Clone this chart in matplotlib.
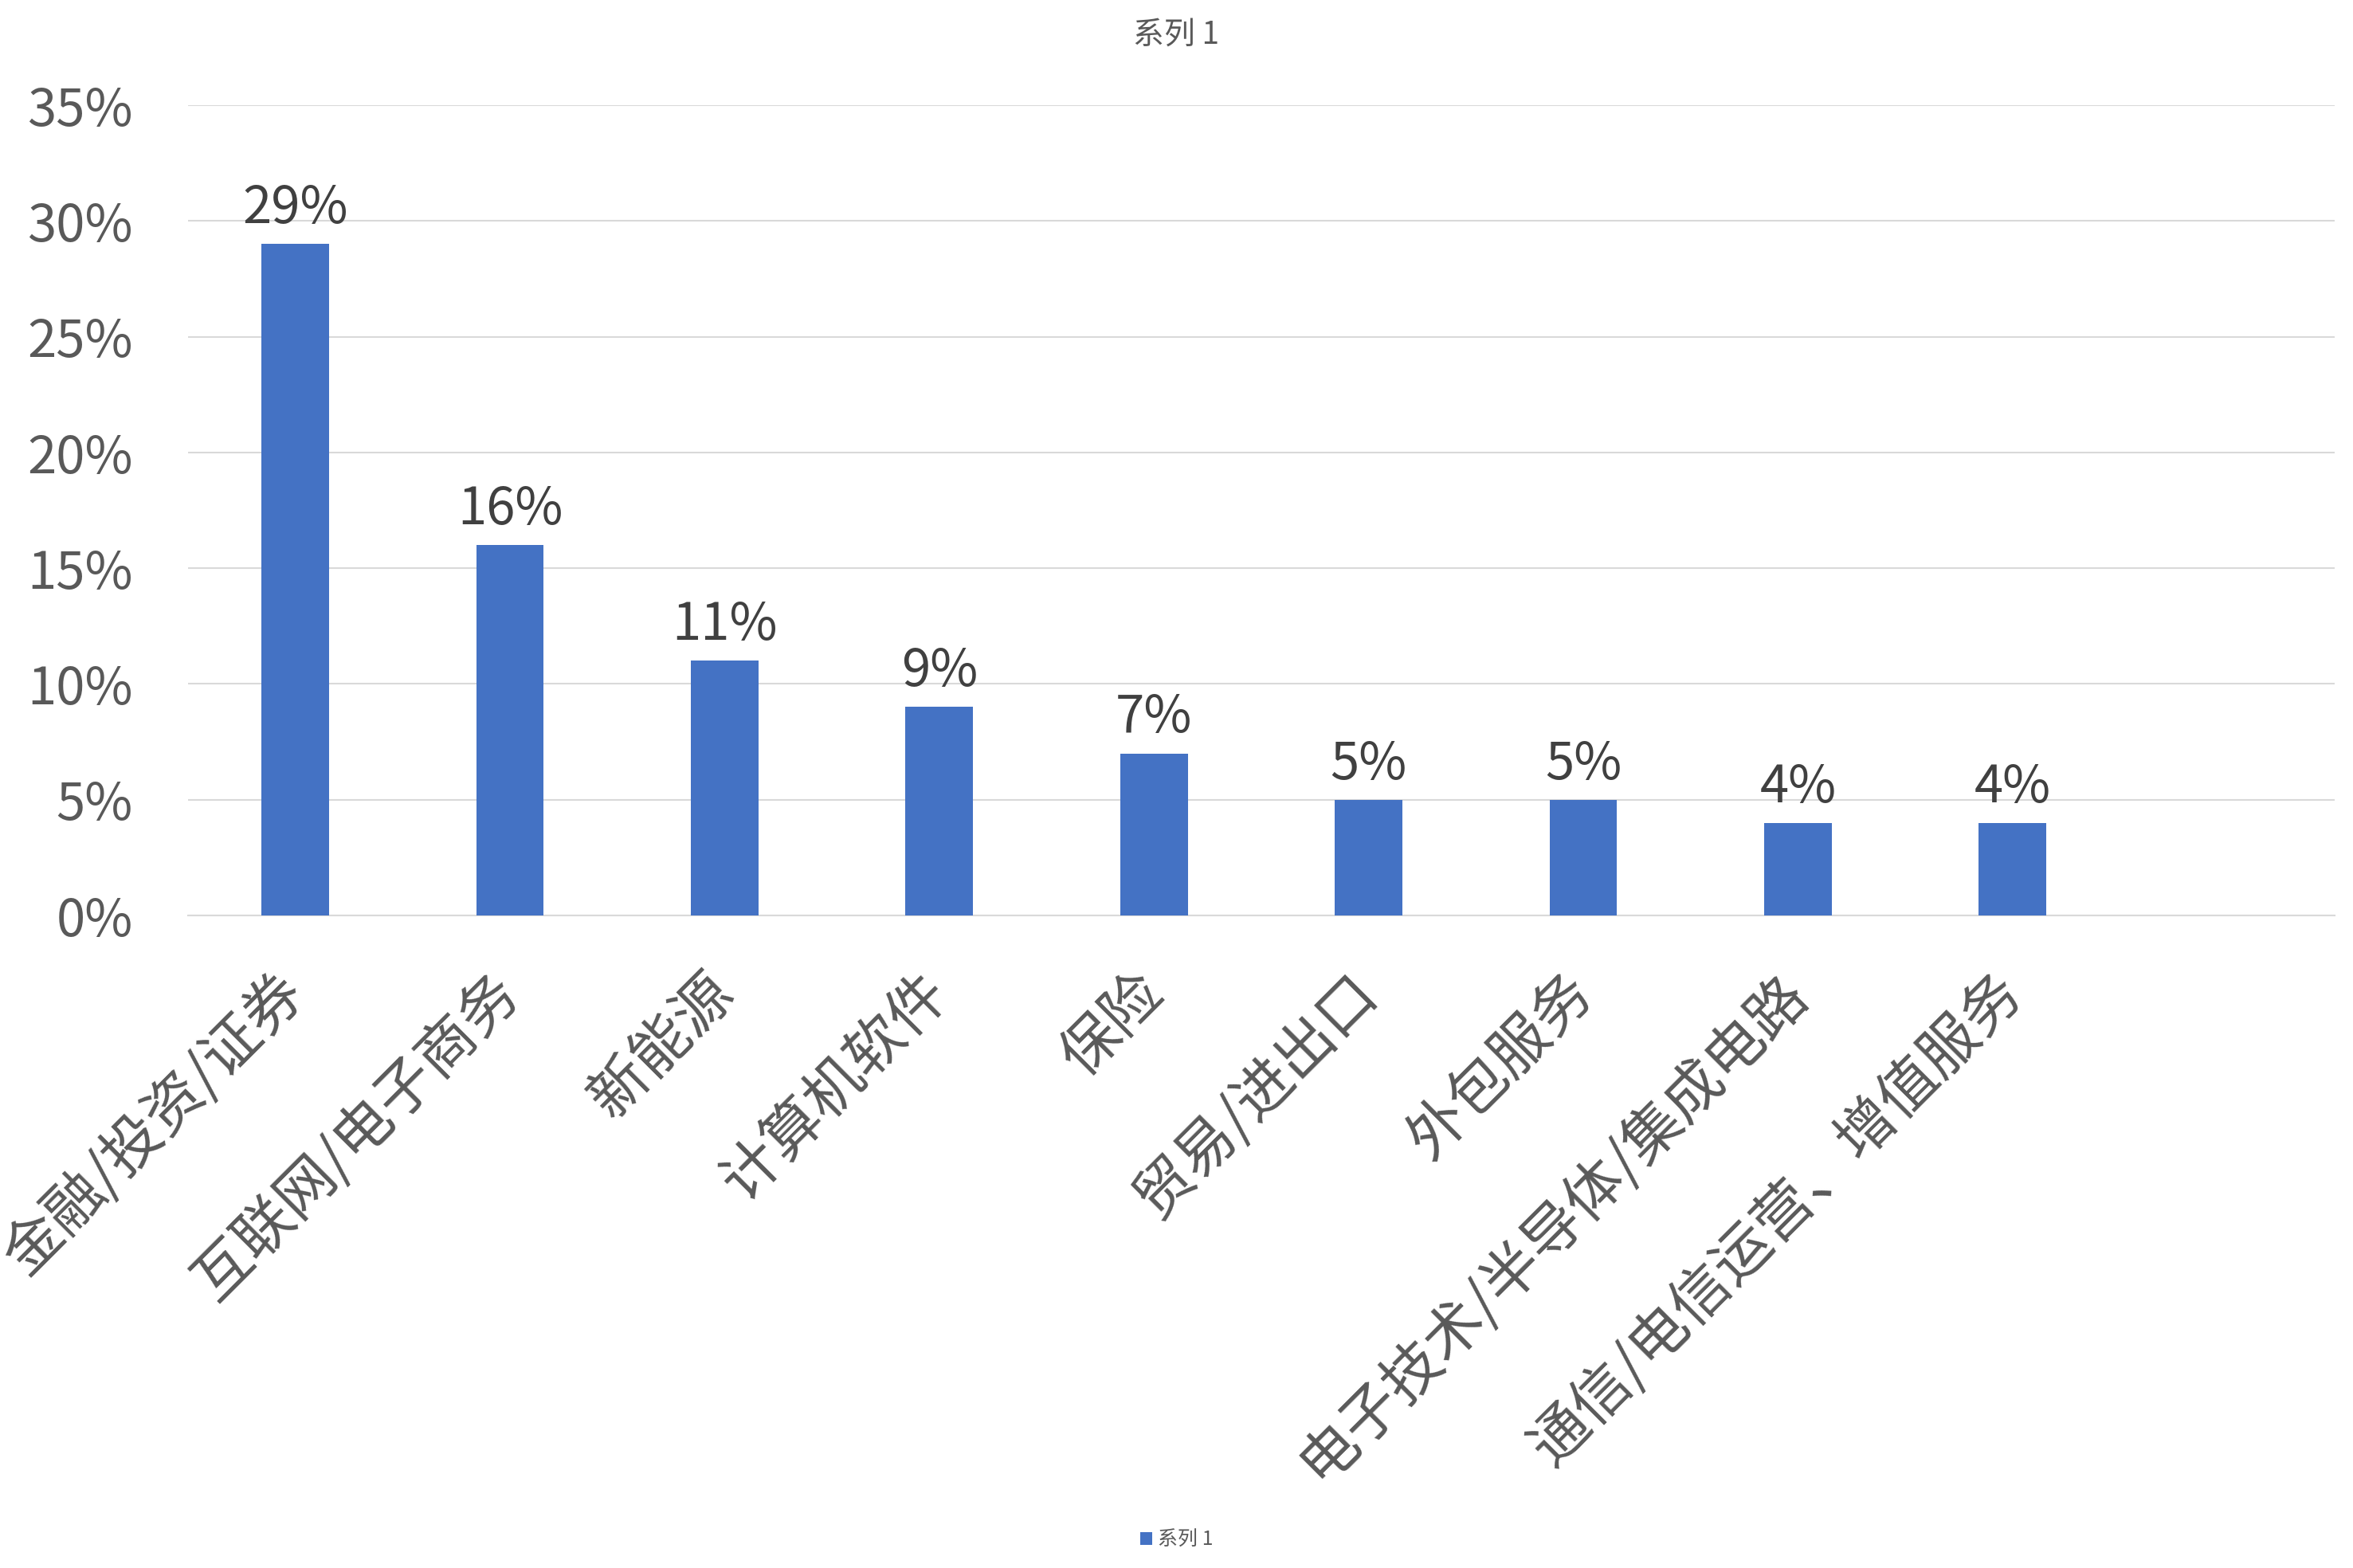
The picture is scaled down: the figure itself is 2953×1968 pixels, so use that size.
import matplotlib
matplotlib.use("Agg")
from matplotlib import pyplot as plt
from matplotlib.ticker import PercentFormatter

plt.rcParams['font.family'] = ['Noto Sans CJK SC', 'DejaVu Sans']

# data
industries = ['金融/投资/证券', '互联网/电子商务', '新能源', '计算机软件', '保险',
              '贸易/进出口', '外包服务', '电子技术/半导体/集成电路', '通信/电信运营、增值服务']
shares = [0.29, 0.16, 0.11, 0.09, 0.07, 0.05, 0.05, 0.04, 0.04]
share_labels = ['29%', '16%', '11%', '9%', '7%', '5%', '5%', '4%', '4%']
series_name = '系列 1'

bar_color = '#4472C4'
grey = '#595959'

fig = plt.figure(figsize=(29.53, 19.68), dpi=100)
ax = fig.add_axes([0.0799, 0.4162, 0.9123, 0.5167])

x = list(range(len(industries)))
bars = ax.bar(x, shares, width=0.315, color=bar_color, label=series_name, zorder=3)

for b, lab in zip(bars, share_labels):
    ax.annotate(lab, (b.get_x() + b.get_width() / 2, b.get_height()),
                xytext=(0, 8), textcoords='offset points',
                ha='center', va='bottom', fontsize=47, color='#404040')

ax.set_xlim(-0.5, 9.5)
ax.set_ylim(0, 0.35)
ax.set_yticks([0, 0.05, 0.10, 0.15, 0.20, 0.25, 0.30, 0.35])
ax.yaxis.set_major_formatter(PercentFormatter(1.0, decimals=0))
ax.grid(axis='y', color='#D9D9D9', linewidth=1.5, zorder=0)
for s in ['top', 'right', 'left']:
    ax.spines[s].set_visible(False)
ax.spines['bottom'].set_color('#D9D9D9')
ax.spines['bottom'].set_linewidth(1.5)

ax.tick_params(axis='y', length=0, pad=50, labelsize=47, labelcolor=grey)
ax.set_xticks(x)
ax.set_xticklabels(industries)
ax.tick_params(axis='x', length=0, pad=62, labelsize=53, labelcolor=grey)
plt.setp(ax.get_xticklabels(), rotation=45, ha='right', va='center',
         rotation_mode='anchor', fontweight='medium')

fig.text(0.5, 0.978, series_name, ha='center', va='center', fontsize=28, color=grey)

fig.legend(loc='center', bbox_to_anchor=(0.5, 0.018), frameon=False,
           fontsize=18, labelcolor=grey, handlelength=0.6, handleheight=0.6,
           handletextpad=0.3)

plt.savefig('out.png', dpi=100)
